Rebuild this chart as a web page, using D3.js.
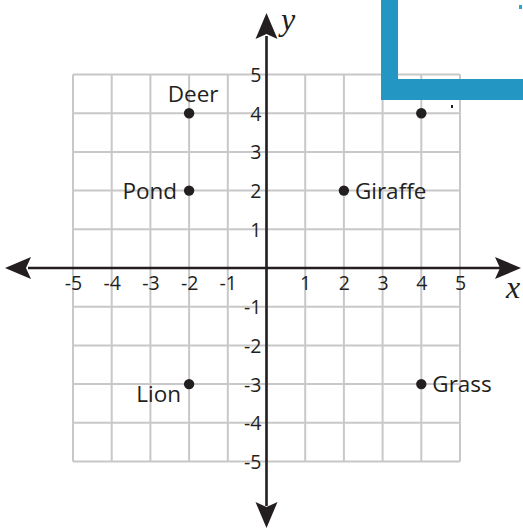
<!DOCTYPE html>
<html>
<head>
<meta charset="utf-8">
<script src="https://cdn.jsdelivr.net/npm/d3@7"></script>
<style>
    html, body { margin: 0; padding: 0; background: #fff; }
    svg { display: block; }
</style>
</head>
<body>
<svg id="plane"></svg>
<script>
// grid / tick values
const gridValues = [-5, -4, -3, -2, -1, 0, 1, 2, 3, 4, 5];
const tickValues = [-5, -4, -3, -2, -1, 1, 2, 3, 4, 5];

// plotted points
const names = ["Deer", "Pond", "Giraffe", "Lion", "Grass", ""];
const xs = [-2, -2, 2, -2, 4, 4];
const ys = [4, 2, 2, -3, -3, 4];
const labelSide = ["top", "left", "right", "bottom-left", "right", "none"];

const width = 523;
const height = 529;
const ink = "#231f20";

const svg = d3.select("#plane")
    .attr("width", width)
    .attr("height", height);

const x = d3.scaleLinear().domain([-5, 5]).range([73, 460]);
const y = d3.scaleLinear().domain([-5, 5]).range([461.5, 74.5]);

const ox = x(0);
const oy = y(0);

// grid
const grid = svg.append("g").attr("stroke", "#c8c8c8").attr("stroke-width", 2);
grid.selectAll(".v")
    .data(gridValues)
    .enter().append("line")
    .attr("x1", d => x(d)).attr("x2", d => x(d))
    .attr("y1", y(5)).attr("y2", y(-5));
grid.selectAll(".h")
    .data(gridValues)
    .enter().append("line")
    .attr("y1", d => y(d)).attr("y2", d => y(d))
    .attr("x1", x(-5)).attr("x2", x(5));

// axes lines
svg.append("line")
    .attr("x1", 28).attr("x2", 500)
    .attr("y1", oy).attr("y2", oy)
    .attr("stroke", ink).attr("stroke-width", 2.6);
svg.append("line")
    .attr("x1", ox).attr("x2", ox)
    .attr("y1", 36).attr("y2", 506)
    .attr("stroke", ink).attr("stroke-width", 2.6);

// arrow heads (pointing right, then rotated)
function arrow(tx, ty, angle) {
    svg.append("path")
        .attr("d", "M0,0 L-26,-11 L-21,0 L-26,11 Z")
        .attr("fill", ink)
        .attr("transform", `translate(${tx},${ty}) rotate(${angle})`);
}
arrow(521, oy, 0);
arrow(5, oy, 180);
arrow(ox, 13, -90);
arrow(ox, 528, 90);

// tick labels
const xAxis = svg.append("g")
    .attr("transform", `translate(0,${oy})`)
    .call(d3.axisBottom(x).tickValues(tickValues).tickSize(0).tickPadding(8).tickFormat(d => String(d)));
const yAxis = svg.append("g")
    .attr("transform", `translate(${ox},0)`)
    .call(d3.axisLeft(y).tickValues(tickValues).tickSize(0).tickPadding(5).tickFormat(d => String(d)));
[xAxis, yAxis].forEach(g => {
    g.select(".domain").remove();
    g.attr("font-size", 19.5).attr("font-family", "Open Sans, sans-serif");
    g.selectAll("text").attr("fill", ink);
});
yAxis.selectAll("text").attr("dy", "0.36em");

// axis names
svg.append("text")
    .attr("x", 506).attr("y", 298)
    .attr("font-family", "Liberation Serif, serif")
    .attr("font-style", "italic")
    .attr("font-size", 32)
    .attr("fill", ink)
    .text("x");
svg.append("text")
    .attr("x", 281).attr("y", 30)
    .attr("font-family", "Liberation Serif, serif")
    .attr("font-style", "italic")
    .attr("font-size", 32)
    .attr("fill", ink)
    .text("y");

// points
const points = names.map((n, i) => ({ name: n, x: xs[i], y: ys[i], side: labelSide[i] }));

svg.selectAll(".pt")
    .data(points)
    .enter().append("circle")
    .attr("class", "pt")
    .attr("cx", d => x(d.x))
    .attr("cy", d => y(d.y))
    .attr("r", 5.2)
    .attr("fill", ink);

svg.selectAll(".lbl")
    .data(points.filter(d => d.side !== "none"))
    .enter().append("text")
    .attr("class", "lbl")
    .attr("font-family", "Open Sans, sans-serif")
    .attr("font-size", 22.5)
    .attr("fill", ink)
    .attr("text-anchor", d => d.side === "top" ? "middle" : (d.side === "right" ? "start" : "end"))
    .attr("x", d => {
        if (d.side === "top") return x(d.x) + 4;
        if (d.side === "right") return x(d.x) + 11;
        if (d.side === "left") return x(d.x) - 12;
        return x(d.x) - 8;
    })
    .attr("y", d => {
        if (d.side === "top") return y(d.y) - 11;
        if (d.side === "bottom-left") return y(d.y) + 18;
        return y(d.y) + 8;
    })
    .text(d => d.name);

// blue corner overlay
svg.append("path")
    .attr("d", "M381,0 L398,0 L398,79 L523,79 L523,100 L381,100 Z")
    .attr("fill", "#2396c3");
svg.append("rect")
    .attr("x", 519).attr("y", 5).attr("width", 3).attr("height", 4)
    .attr("fill", "#2ba6d6");
svg.append("rect")
    .attr("x", 451).attr("y", 105).attr("width", 2).attr("height", 3)
    .attr("fill", ink);
</script>
</body>
</html>
